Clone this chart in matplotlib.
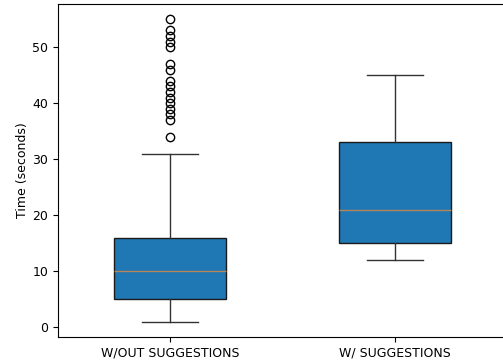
import matplotlib
matplotlib.use("Agg")
import matplotlib.pyplot as plt

labels = ["W/OUT SUGGESTIONS", "W/ SUGGESTIONS"]
q1 = [5, 15]
med = [10, 21]
q3 = [16, 33]
whislo = [1, 12]
whishi = [31, 45]
fliers_wout = [55, 53, 52, 51, 50, 47, 46, 44, 43, 42, 41, 40, 39, 38, 37, 34]
fliers_w = []

plt.rcParams['font.size'] = 9

stats = []
for i, lab in enumerate(labels):
    stats.append(dict(label=lab, q1=q1[i], med=med[i], q3=q3[i],
                      whislo=whislo[i], whishi=whishi[i],
                      fliers=[fliers_wout, fliers_w][i]))

fig = plt.figure(figsize=(5.03, 3.64), dpi=100)
ax = fig.add_axes([58/503, 27/364, (507-58)/503, (337-4)/364])
bp = ax.bxp(stats, patch_artist=True, widths=0.5,
            medianprops=dict(color="#b5865a", linewidth=1.0),
            whiskerprops=dict(color="#333333"),
            capprops=dict(color="#333333"),
            boxprops=dict(edgecolor="#1a1a1a"))
ax.set_ylabel("Time (seconds)", labelpad=2.5)
fig.savefig("out.png", dpi=100)
